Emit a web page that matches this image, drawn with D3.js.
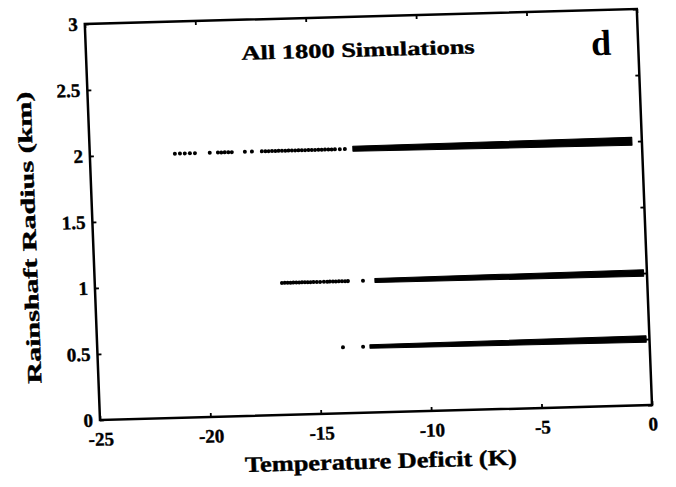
<!DOCTYPE html>
<html>
<head>
<meta charset="utf-8">
<script src="https://cdn.jsdelivr.net/npm/d3@7"></script>
<style>
  body { margin: 0; background: #fff; }
  text { font-family: "Liberation Serif", "Times New Roman", serif; font-weight: bold; fill: #000; }
</style>
</head>
<body>
<div id="chart"></div>
<script>
// panel d
var xTicks = [-25, -20, -15, -10, -5, 0];
var xTickLabels = ["-25", "-20", "-15", "-10", "-5", "0"];
var yTicks = [0, 0.5, 1, 1.5, 2, 2.5, 3];
var yTickLabels = ["0", "0.5", "1", "1.5", "2", "2.5", "3"];

var radii = [2, 1, 0.5];

// loose points at the cold end of each rainshaft size (temperature deficit, K)
var sparse2 = [-21.15, -20.92, -20.7, -20.47, -20.24, -19.57, -19.2, -19.05, -18.89, -18.73, -18.57,
  -17.98, -17.66, -17.21, -17.05, -16.9, -16.75, -16.6, -16.45, -16.3, -16.15, -16.0,
  -15.85, -15.7, -15.55, -15.4, -15.25, -15.1, -14.95, -14.8, -14.65, -14.5, -14.35,
  -14.2, -14.05, -13.9, -13.68, -13.45];
var sparse1 = [-16.53, -16.4, -16.27, -16.14, -16.01, -15.88, -15.75, -15.62, -15.49,
  -15.36, -15.23, -15.1, -14.95, -14.8, -14.63, -14.48, -14.36, -14.22, -14.09,
  -13.95, -13.81, -13.67, -13.54, -12.86];
var sparse05 = [-13.88, -12.97];

// where the points run together into a solid streak [start, end]
var dense2 = [-13.09, -0.45];
var dense1 = [-12.32, -0.15];
var dense05 = [-12.66, -0.15];

var sparse = [sparse2, sparse1, sparse05];
var dense = [dense2, dense1, dense05];

var width = 552, height = 396;

var svg = d3.select("#chart")
  .append("svg")
    .attr("width", 676)
    .attr("height", 487)
    .style("background", "#fff");

// the scan is slightly skewed, so the whole panel sits in a tilted frame
var g = svg.append("g")
    .attr("transform", "matrix(1,-0.02717,0.03838,1,84.8,24)");

var x = d3.scaleLinear().domain([-25, 0]).range([0, width]);
var y = d3.scaleLinear().domain([0, 3]).range([height, 0]);

g.append("g")
    .attr("transform", "translate(0," + height + ")")
    .call(d3.axisBottom(x).tickValues(xTicks).tickSizeInner(-4).tickSizeOuter(0).tickPadding(12)
      .tickFormat(function(d, i) { return xTickLabels[i]; }));

g.append("g")
    .call(d3.axisTop(x).tickValues(xTicks).tickSizeInner(-4).tickSizeOuter(0).tickFormat(""));

g.append("g")
    .call(d3.axisLeft(y).tickValues(yTicks).tickSizeInner(-4).tickSizeOuter(0).tickPadding(7)
      .tickFormat(function(d, i) { return yTickLabels[i]; }));

g.append("g")
    .attr("transform", "translate(" + width + ",0)")
    .call(d3.axisRight(y).tickValues(yTicks).tickSizeInner(-4).tickSizeOuter(0).tickFormat(""));

g.selectAll(".domain").remove();
g.selectAll(".tick line").attr("stroke", "#000").attr("stroke-width", 1.8);
g.selectAll(".tick text")
    .style("font-family", '"Liberation Serif", serif')
    .style("font-weight", "bold")
    .style("font-size", "19px")
    .attr("stroke", "#000")
    .attr("stroke-width", 0.4);

g.append("rect")
    .attr("x", 0).attr("y", 0)
    .attr("width", width).attr("height", height)
    .attr("fill", "none")
    .attr("stroke", "#000")
    .attr("stroke-width", 2.5);

// solid streaks, getting a bit fatter toward 0 K
var thick = [[5, 8], [4, 6.5], [3.5, 6.5]];
radii.forEach(function(r, i) {
  var area = d3.area()
    .x(function(d) { return x(d.t); })
    .y0(function(d) { return y(r) + d.h / 2; })
    .y1(function(d) { return y(r) - d.h / 2; });
  g.append("path")
    .datum([{t: dense[i][0], h: thick[i][0]}, {t: dense[i][1], h: thick[i][1]}])
    .attr("d", area)
    .attr("fill", "#000")
    .attr("stroke", "#000")
    .attr("stroke-width", 1)
    .attr("stroke-linejoin", "round");

  g.append("g").selectAll("circle")
    .data(sparse[i])
    .enter()
    .append("circle")
      .attr("cx", function(d) { return x(d); })
      .attr("cy", y(r))
      .attr("r", 2)
      .attr("fill", "#000");
});

g.append("text")
    .attr("x", 272).attr("y", 40)
    .attr("text-anchor", "middle")
    .style("font-size", "20px")
    .attr("stroke", "#000").attr("stroke-width", 0.4)
    .attr("textLength", 233)
    .attr("lengthAdjust", "spacingAndGlyphs")
    .text("All 1800 Simulations");

g.append("text")
    .attr("x", 515).attr("y", 45)
    .attr("text-anchor", "middle")
    .style("font-size", "36px")
    .text("d");

g.append("text")
    .attr("x", 279).attr("y", 452)
    .attr("text-anchor", "middle")
    .style("font-size", "22px")
    .attr("stroke", "#000").attr("stroke-width", 0.4)
    .attr("textLength", 272)
    .attr("lengthAdjust", "spacingAndGlyphs")
    .text("Temperature Deficit (K)");

g.append("text")
    .attr("transform", "translate(-57,212) rotate(-90)")
    .attr("text-anchor", "middle")
    .style("font-size", "20px")
    .attr("stroke", "#000").attr("stroke-width", 0.4)
    .attr("textLength", 292)
    .attr("lengthAdjust", "spacingAndGlyphs")
    .text("Rainshaft Radius (km)");
</script>
</body>
</html>
